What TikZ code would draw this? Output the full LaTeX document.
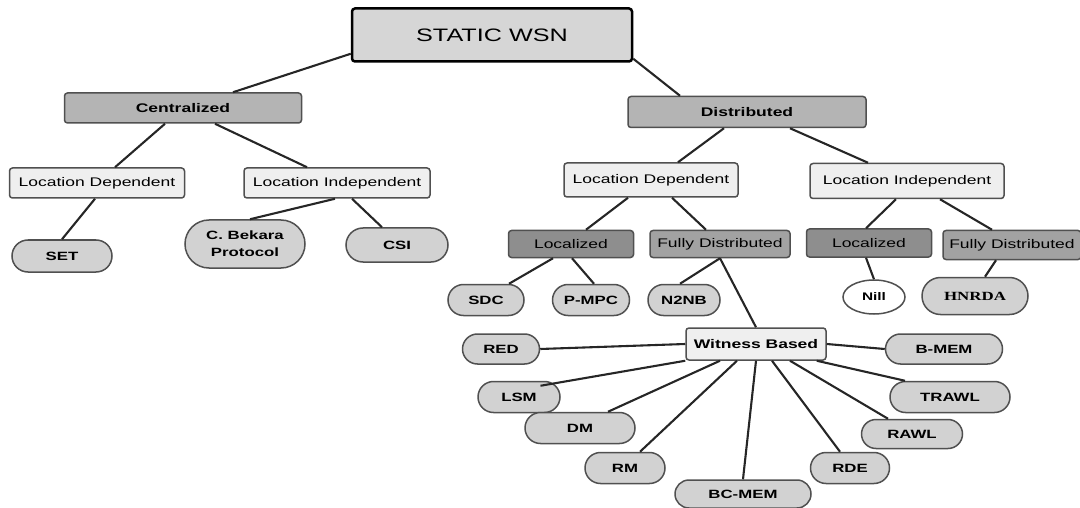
\documentclass[tikz,border=0pt]{standalone}
\usepackage{fontspec}
\setmainfont{Liberation Sans}[FakeStretch=1.4]
\newfontfamily\serifhn{Liberation Serif}[FakeStretch=1.35]
\usetikzlibrary{shapes.misc,shapes.geometric,calc}
\definecolor{cTop}{HTML}{D6D6D6}
\definecolor{cMid}{HTML}{B4B4B4}
\definecolor{cLight}{HTML}{EFEFEF}
\definecolor{cDark}{HTML}{8E8E8E}
\definecolor{cFull}{HTML}{A2A2A2}
\definecolor{cLeaf}{HTML}{D2D2D2}
\definecolor{cBorder}{HTML}{505050}
\tikzset{
  box/.style={draw=cBorder, line width=1.5pt, rounded corners=3pt, inner sep=0pt, align=center, font=\fontsize{12.5}{14}\selectfont},
  topbox/.style={box, draw=black, line width=2.5pt, fill=cTop, font=\fontsize{18}{20}\selectfont},
  midbox/.style={box, fill=cMid, font=\bfseries\fontsize{12.5}{14}\selectfont},
  lightbox/.style={box, fill=cLight},
  darkbox/.style={box, fill=cDark},
  fullbox/.style={box, fill=cFull},
  leaf/.style={draw=cBorder, line width=1.5pt, rounded rectangle, fill=cLeaf, inner sep=0pt, align=center, font=\bfseries\fontsize{12}{17}\selectfont},
  conn/.style={draw=black!85, line width=2.1pt},
}
\begin{document}
\begin{tikzpicture}[x=1pt,y=-1pt]
\useasboundingbox (0,0) rectangle (1080,508);
% top
\node[topbox, minimum width=280pt, minimum height=53pt] (static) at (492,35) {STATIC WSN};
\node[midbox, minimum width=237pt, minimum height=30pt] (cen) at (183,108) {Centralized};
\node[midbox, minimum width=238pt, minimum height=31pt] (dist) at (747,112) {Distributed};
% centralized branch
\node[lightbox, minimum width=175pt, minimum height=30pt] (ldL) at (97,183) {Location Dependent};
\node[lightbox, minimum width=186pt, minimum height=30pt] (liL) at (337,183) {Location Independent};
\node[leaf, minimum width=100pt, minimum height=32pt] (set) at (62,256) {SET};
\node[leaf, minimum width=120pt, minimum height=48pt] (bek) at (245,244) {C. Bekara\\Protocol};
\node[leaf, minimum width=102pt, minimum height=34pt] (csi) at (397,245) {CSI};
% distributed branch
\node[lightbox, minimum width=174pt, minimum height=34pt] (ldR) at (651,180) {Location Dependent};
\node[lightbox, minimum width=194pt, minimum height=35pt] (liR) at (907,181) {Location Independent};
\node[darkbox, minimum width=125pt, minimum height=27pt] (locL) at (571,244) {Localized};
\node[fullbox, minimum width=140pt, minimum height=27pt] (fdL) at (720,244) {Fully Distributed};
\node[darkbox, minimum width=125pt, minimum height=28pt] (locR) at (869,243) {Localized};
\node[fullbox, minimum width=138pt, minimum height=29pt] (fdR) at (1012,245) {Fully Distributed};
\node[leaf, minimum width=76pt, minimum height=31pt] (sdc) at (486,300) {SDC};
\node[leaf, minimum width=77pt, minimum height=31pt] (pmpc) at (591,300) {P-MPC};
\node[leaf, minimum width=72pt, minimum height=31pt] (n2nb) at (684,300) {N2NB};
\node[draw=cBorder, line width=1.5pt, ellipse, fill=white, inner sep=0pt, minimum width=62pt, minimum height=34pt, font=\bfseries\fontsize{11}{12}\selectfont] (nill) at (874,297) {Nill};
\node[leaf, minimum width=106pt, minimum height=37pt, font=\serifhn\bfseries\fontsize{12.5}{14}\selectfont] (hnrda) at (975,296) {HNRDA};
% witness based
\node[lightbox, minimum width=140pt, minimum height=32pt, font=\bfseries\fontsize{12.5}{14}\selectfont] (wit) at (756,344) {Witness Based};
\node[leaf, minimum width=77pt, minimum height=30pt] (red) at (501,349) {RED};
\node[leaf, minimum width=117pt, minimum height=30pt] (bmem) at (944,349) {B-MEM};
\node[leaf, minimum width=82pt, minimum height=31pt] (lsm) at (519,397) {LSM};
\node[leaf, minimum width=120pt, minimum height=31pt] (trawl) at (950,397) {TRAWL};
\node[leaf, minimum width=110pt, minimum height=31pt] (dm) at (580,428) {DM};
\node[leaf, minimum width=101pt, minimum height=29pt] (rawl) at (912,434) {RAWL};
\node[leaf, minimum width=80pt, minimum height=31pt] (rm) at (625,468) {RM};
\node[leaf, minimum width=79pt, minimum height=31pt] (rde) at (850,468) {RDE};
\node[leaf, minimum width=136pt, minimum height=28pt] (bcmem) at (743,494) {BC-MEM};
% connectors
\draw[conn] ($(static.south west)+(0,-9)$) -- ($(cen.north)+(50,0)$);
\draw[conn] ($(static.south east)+(0,-4)$) -- ($(dist.north)+(-67,0)$);
\draw[conn] ($(cen.south)+(-18,0)$) -- ($(ldL.north)+(18,0)$);
\draw[conn] ($(cen.south)+(32,0)$) -- ($(liL.north)+(-30,0)$);
\draw[conn] ($(ldL.south)+(-2,0)$) -- (set.north);
\draw[conn] ($(liL.south)+(-2,0)$) -- ($(bek.north)+(5,0)$);
\draw[conn] ($(liL.south)+(15,0)$) -- ($(csi.north)+(-15,0)$);
\draw[conn] ($(dist.south)+(-23,0)$) -- ($(ldR.north)+(27,0)$);
\draw[conn] ($(dist.south)+(43,0)$) -- ($(liR.north)+(-39,0)$);
\draw[conn] ($(ldR.south)+(-23,0)$) -- ($(locL.north)+(15,0)$);
\draw[conn] ($(ldR.south)+(21,0)$) -- ($(fdL.north)+(-14,0)$);
\draw[conn] ($(liR.south)+(-11,0)$) -- ($(locR.north)+(-3,0)$);
\draw[conn] ($(liR.south)+(33,0)$) -- ($(fdR.north)+(-20,0)$);
\draw[conn] ($(locL.south)+(-18,0)$) -- ($(sdc.north)+(23,0)$);
\draw[conn] ($(locL.south)+(1,0)$) -- ($(pmpc.north)+(3,0)$);
\draw[conn] (fdL.south) -- ($(n2nb.north)+(-4,0)$);
\draw[conn] (fdL.south) -- (wit.north);
\draw[conn] ($(locR.south)+(-3,0)$) -- (nill.north);
\draw[conn] ($(fdR.south)+(-16,0)$) -- ($(hnrda.north)+(10,0)$);
\draw[conn] (red.east) -- (wit.west);
\draw[conn] (wit.east) -- (bmem.west);
\draw[conn] ($(lsm.north east)+(-4,5)$) -- (wit.south west);
\draw[conn] ($(dm.north)+(28,0)$) -- ($(wit.south)+(-36,0)$);
\draw[conn] ($(rm.north)+(15,0)$) -- ($(wit.south)+(-19,0)$);
\draw[conn] (bcmem.north) -- (wit.south);
\draw[conn] ($(rde.north)+(-10,0)$) -- ($(wit.south)+(16,0)$);
\draw[conn] ($(rawl.north)+(-24,0)$) -- ($(wit.south)+(34,0)$);
\draw[conn] ($(trawl.north)+(-45,0)$) -- ($(wit.south east)+(-10,0)$);
\end{tikzpicture}
\end{document}
